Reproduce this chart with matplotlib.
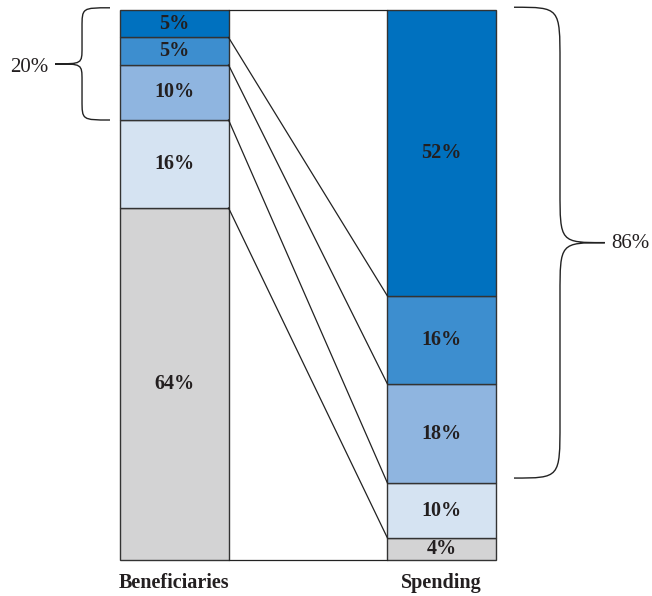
import matplotlib.pyplot as plt
from matplotlib.path import Path
from matplotlib.patches import PathPatch
import numpy as np

# segments listed bottom to top
groups = ['Beneficiaries', 'Spending']
beneficiaries = [64, 16, 10, 5, 5]
spending = [4, 10, 18, 16, 52]
colors = ['#d3d3d4', '#d5e3f2', '#8fb5e0', '#3d8ecf', '#0071bf']
brace_left = (80, 100, '20%')    # top 20% of beneficiaries
brace_right = (14, 100, '86%')   # top 3 groups of spending

plt.rcParams['font.family'] = ['Liberation Serif', 'DejaVu Serif']
txt = '#231f20'

fig = plt.figure(figsize=(6.52, 5.96), dpi=100)
ax = fig.add_axes([0, 0, 1, 1])
ax.set_xlim(-0.6536, 1.7884)
ax.set_ylim(-6.545, 101.818)
ax.axis('off')

w = 0.405
x = np.arange(len(groups))
for i, vals in enumerate([beneficiaries, spending]):
    bottom = 0
    for v, c in zip(vals, colors):
        ax.bar(x[i], v, w, bottom=bottom, color=c, edgecolor='#333333', linewidth=1.0)
        ax.text(x[i], bottom + v / 2, '%d%%' % v, ha='center', va='center',
                fontsize=14.5, fontweight='bold', color=txt)
        bottom += v
    ax.text(x[i], -4.2, groups[i], ha='center', va='center', fontsize=14.5,
            fontweight='bold', color=txt)

# connecting lines between segment boundaries
cb = np.concatenate([[0], np.cumsum(beneficiaries)])
cs = np.concatenate([[0], np.cumsum(spending)])
for a, b in zip(cb, cs):
    ax.plot([x[0] + w / 2, x[1] - w / 2], [a, b], color='#222222', lw=0.9)


def brace(x_end, x_spine, x_tip, y0, y1, ry_end, ry_tip):
    ym = (y0 + y1) / 2
    verts = [(x_end, y1), (x_spine, y1), (x_spine, y1), (x_spine, y1 - ry_end),
             (x_spine, ym + ry_tip), (x_spine, ym), (x_spine, ym), (x_tip, ym),
             (x_spine, ym), (x_spine, ym), (x_spine, ym - ry_tip),
             (x_spine, y0 + ry_end), (x_spine, y0), (x_spine, y0), (x_end, y0)]
    codes = [Path.MOVETO, Path.CURVE4, Path.CURVE4, Path.CURVE4,
             Path.LINETO, Path.CURVE4, Path.CURVE4, Path.CURVE4,
             Path.CURVE4, Path.CURVE4, Path.CURVE4,
             Path.LINETO, Path.CURVE4, Path.CURVE4, Path.CURVE4]
    ax.add_patch(PathPatch(Path(verts, codes), fill=False, ec='#222222', lw=1.0))


lo, hi, lab = brace_left
brace(-0.2416, -0.3464, -0.4476, lo, hi + 0.4, 3.6, 3.0)
ax.text(-0.545, (lo + hi) / 2 - 0.5, lab, ha='center', va='center', fontsize=15, color=txt)

lo, hi, lab = brace_right
brace(1.2715, 1.4438, 1.612, lo + 0.9, hi + 0.5, 10.0, 9.5)
ax.text(1.635, (lo + hi) / 2 + 0.5, lab, ha='left', va='center', fontsize=15, color=txt)

fig.savefig('out.png', dpi=100)
